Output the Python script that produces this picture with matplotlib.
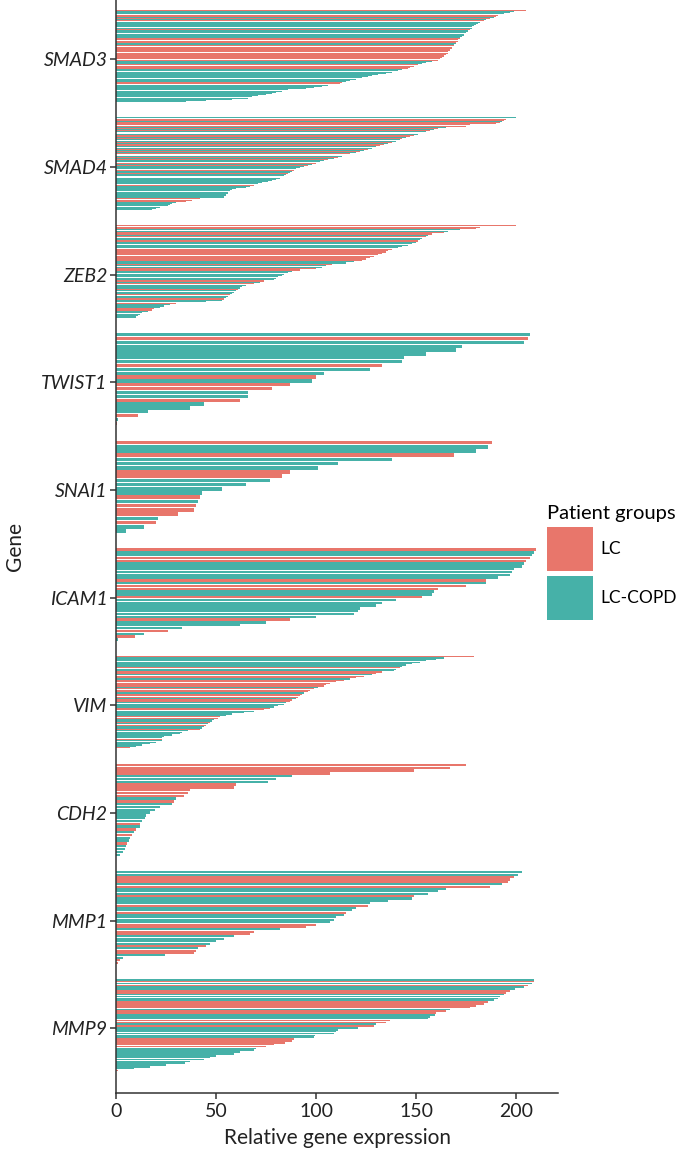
import matplotlib
matplotlib.use('Agg')
from matplotlib import pyplot as plt
from matplotlib.patches import Patch

plt.rcParams['font.family'] = ['Lato', 'DejaVu Sans']

# Genes top to bottom; L = LC, C = LC-COPD
genes = ['SMAD3', 'SMAD4', 'ZEB2', 'TWIST1', 'SNAI1',
         'ICAM1', 'VIM', 'CDH2', 'MMP1', 'MMP9']
group_names = {'L': 'LC', 'C': 'LC-COPD'}
group_colors = {'L': '#E8766B', 'C': '#46B1A8'}

smad3_vals = [205, 199, 197, 194, 191, 190, 189, 187, 185, 184, 182,
              181, 180, 179, 178, 178, 177, 176, 176, 175, 174, 174, 173, 172,
              172, 171, 171, 170, 170, 169,
              169, 168, 168, 167, 167, 166, 166, 165, 164, 164, 163, 162, 161,
              158, 155, 153, 151, 149, 147, 146, 143, 141, 138, 135,
              131, 128, 126, 123, 120, 117, 115, 113, 112, 106, 103, 99, 95,
              86, 83, 80, 78, 75, 71, 68, 66, 58, 45, 35]
smad3_grps = ('L' 'CCC' 'LLCL' 'CLC' 'CCCCCLCCCCCCC' 'LLLL' 'CC'
              'LLLLLLLLLLLLL' 'CCC' 'LLLL' 'CCCC' 'CCCCCCC' 'LL' 'CCCC'
              'CCCC' 'CCCC' 'CCC')

smad4_vals = [200, 195, 194, 193, 192, 190, 177, 175, 165, 161, 159,
              157, 155, 153, 151, 149, 147, 145, 143, 142,
              140, 138, 136, 134, 132, 130, 128, 126,
              124, 122, 120, 117, 115, 113, 111, 109,
              106, 104, 102, 100, 98, 96, 94, 92,
              90, 89, 88, 87, 86, 85, 84, 83, 82,
              80, 78, 76, 73, 71, 69, 67, 65,
              60, 58, 57, 56, 56, 55, 55, 54, 54,
              42, 38, 35, 30, 28, 27, 26, 22, 20, 18]
smad4_grps = ('C' 'LLCLL' 'LL' 'CLC' 'LCLCLLCLC' 'CLCLLCCL' 'CLCLCCLC'
              'LCCLCLCC' 'CLCCLCCLC' 'CCCCCLCC' 'CCCCCCCCC' 'LLL' 'CCCC' 'CCC')

zeb2_vals = [200, 182, 180, 172, 166, 164,
             158, 156, 155, 153, 152, 151, 150, 148, 146, 143, 141,
             138, 136, 135, 133, 131, 129, 127, 125, 123, 119, 115,
             108, 105, 103, 100, 92, 88, 86, 84, 83, 81, 80, 79,
             74, 72, 69, 65, 63, 62, 61, 60, 59, 58, 57, 56, 55, 54, 53,
             45, 30, 27, 24, 22, 19, 18, 16, 13, 12, 11, 10]
zeb2_grps = ('L' 'LLC' 'CL' 'LCLCCLC' 'CCCC' 'LLLLLLLLL' 'CC' 'LCCLL'
             'CCCCCCC' 'LCL' 'CCCLCCCLCCLC' 'CL' 'CCC' 'LLC' 'CCCC')

twist1_vals = [207, 206, 204, 173, 170, 155, 144, 143, 133, 127, 104, 100,
               98, 87, 78, 66, 66, 62, 44, 37, 16, 11, 1, 0.5]
twist1_grps = 'CLCCCCCCLCCLCLLCCLCCCLCL'

snai1_vals = [188, 186, 180, 169, 138, 111, 101, 87, 83, 77, 65, 53,
              43, 42, 41, 40, 39, 31, 21, 20, 14, 5]
snai1_grps = 'LCCLCCCLLCCCCLCLLLCLCC'

icam1_vals = [210, 209, 208, 207, 205, 204, 203, 199, 198, 197, 191, 185,
              185, 175, 161, 159, 158, 153, 140, 133, 130, 122, 121, 119,
              100, 87, 75, 62, 33, 26, 14, 9.5, 1]
icam1_grps = 'LCCLLCCCCCCLCLLCCLCCCCCCCLCCCLCLC'

vim_vals = [179, 164, 160, 155, 152, 148, 145, 143, 142, 140,
            139, 133, 130, 128, 124, 120, 117, 114, 110, 107,
            105, 104, 101, 99, 97, 96, 94, 93, 92, 91,
            90, 88, 87, 85, 84, 81, 79, 77, 74, 69,
            64, 58, 55, 52, 51, 49, 48, 47, 46, 45,
            44, 43, 42, 36, 33, 32, 28, 24, 23, 23,
            23, 20, 17, 13, 10, 7]
vim_grps = ('LCCCCCCCLC' 'CLLCLLCLLL' 'LLCLLLCLLL' 'CLLCCCCLLC'
            'CCCLLCCLCL' 'CCLCCCCCCL' 'CCCCCL')

cdh2_vals = [175, 167, 149, 107, 88, 80, 76, 60, 59, 37, 36, 34, 30, 29,
             28, 22, 19.5, 17, 15, 14.5, 13, 12, 12, 10, 9, 8, 7, 6.5, 5.5,
             5, 4.5, 3.5, 2.3]
cdh2_grps = 'LLLLCCCLLLLLCLCCCCCCCLCLCLCCLCCCC'

mmp1_vals = [203, 201, 199, 197, 196, 193, 187, 165, 161, 156, 149, 148,
             136, 127, 126, 120, 118, 115, 114, 110, 109, 107, 100, 95, 82,
             69, 67, 59, 54, 50, 47, 45, 41, 40, 39, 24.5, 3.5, 2, 1]
mmp1_grps = 'CCLLLCLCCCLCCCLCCLCCCCLLCLLCCCCLCLLCCLL'

mmp9_vals = [208.7, 209, 208, 206, 204, 199.5, 197, 195, 194, 192, 191, 189,
             186, 184, 180, 177, 167, 165, 160, 159.5, 157, 156, 137, 135,
             130, 129, 121, 111, 110, 109, 99.5, 99, 89, 88, 84.5, 79, 75,
             70, 69, 62, 59, 50, 47, 44, 37, 34.5, 25, 17, 9, 1]
mmp9_grps = 'CLCLCCLLCCCCLLLLCLLCCCLLCLCCCCCCLLLLLCCCCCCCCCCCCL'

gene_vals = [smad3_vals, smad4_vals, zeb2_vals, twist1_vals, snai1_vals,
             icam1_vals, vim_vals, cdh2_vals, mmp1_vals, mmp9_vals]
gene_grps = [smad3_grps, smad4_grps, zeb2_grps, twist1_grps, snai1_grps,
             icam1_grps, vim_grps, cdh2_grps, mmp1_grps, mmp9_grps]

fig = plt.figure(figsize=(6.85, 11.57), dpi=100)
ax = fig.add_axes([0.169, 0.0553, 0.646, 0.9447])

band = 0.86
shift = -0.03
for i, (vals, grps) in enumerate(zip(gene_vals, gene_grps)):
    n = len(vals)
    h = band / n
    ys = [i + shift - band / 2 + h * (k + 0.5) for k in range(n)]
    cols = [group_colors[g] for g in grps[:n]]
    ax.barh(ys, vals, height=h * 0.85, color=cols, linewidth=0)

ax.set_ylim(9.6, -0.55)
ax.set_xlim(0, 221)
ax.set_yticks(range(len(genes)))
ax.set_yticklabels(genes, fontstyle='italic', fontsize=14, color='#222222')
ax.set_xticks([0, 50, 100, 150, 200])
ax.tick_params(axis='x', labelsize=14, labelcolor='#222222', length=4,
               width=1.1, color='#333333', pad=3)
ax.tick_params(axis='y', length=4, width=1.1, color='#333333', pad=2)
for s in ['top', 'right']:
    ax.spines[s].set_visible(False)
for s in ['left', 'bottom']:
    ax.spines[s].set_color('#333333')
    ax.spines[s].set_linewidth(1.1)

ax.set_xlabel('Relative gene expression', fontsize=15, color='#222222',
              labelpad=6)
ax.set_ylabel('Gene', fontsize=15, color='#222222')
ax.yaxis.set_label_coords(-0.205, 0.5)

handles = [Patch(facecolor=group_colors[k], edgecolor='none',
                 label=group_names[k]) for k in ['L', 'C']]
fig.legend(handles=handles, title='Patient groups', loc='upper left',
           bbox_to_anchor=(0.7985, 1 - 505 / 1157), frameon=False,
           fontsize=12.5, title_fontsize=14.5, handlelength=2.65,
           handleheight=3.5, handletextpad=0.45, labelspacing=0.3,
           borderpad=0, borderaxespad=0, alignment='left')

fig.savefig('out.png', dpi=100)
